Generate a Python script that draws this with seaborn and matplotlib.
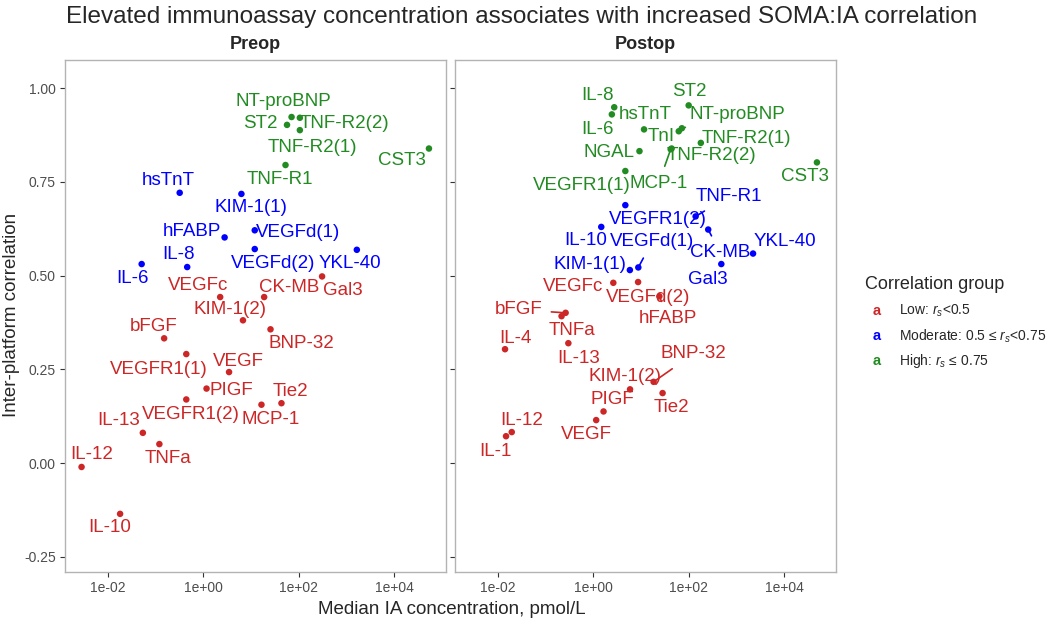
import matplotlib
matplotlib.use("Agg")
import matplotlib.pyplot as plt
import seaborn as sns
import pandas as pd

# Preop data
pre_markers = ['NT-proBNP', 'TNF-R2(2)', 'ST2', 'TNF-R2(1)', 'CST3', 'TNF-R1', 'hsTnT', 'KIM-1(1)',
               'VEGFd(1)', 'hFABP', 'VEGFd(2)', 'YKL-40', 'IL-6', 'IL-8', 'Gal3', 'VEGFc', 'CK-MB',
               'KIM-1(2)', 'BNP-32', 'bFGF', 'VEGFR1(1)', 'VEGF', 'PIGF', 'Tie2', 'MCP-1', 'VEGFR1(2)',
               'IL-13', 'TNFa', 'IL-12', 'IL-10']
pre_conc = [71, 106, 57, 106, 54000, 53, 0.32, 6.3,
            12, 2.8, 12, 1660, 0.051, 0.46, 310, 2.26, 18.9,
            6.8, 25.7, 0.151, 0.44, 3.47, 1.17, 43.6, 16.6, 0.44,
            0.054, 0.12, 0.0028, 0.018]
pre_corr = [0.923, 0.921, 0.902, 0.888, 0.839, 0.795, 0.721, 0.718,
            0.621, 0.602, 0.571, 0.569, 0.531, 0.523, 0.498, 0.443, 0.443,
            0.381, 0.357, 0.333, 0.291, 0.243, 0.199, 0.160, 0.156, 0.170,
            0.081, 0.051, -0.01, -0.135]

# Postop data
post_markers = ['IL-8', 'IL-6', 'ST2', 'hsTnT', 'TnI', 'NT-proBNP', 'TNF-R2(2)', 'TNF-R2(1)', 'NGAL',
                'MCP-1', 'VEGFR1(1)', 'CST3', 'VEGFR1(2)', 'TNF-R1', 'IL-10', 'CK-MB', 'YKL-40', 'Gal3',
                'KIM-1(1)', 'VEGFd(1)', 'VEGFc', 'VEGFd(2)', 'hFABP', 'bFGF', 'TNFa', 'IL-13', 'IL-4',
                'BNP-32', 'KIM-1(2)', 'Tie2', 'PIGF', 'VEGF', 'IL-12', 'IL-1']
post_conc = [2.75, 2.45, 100, 11.6, 62, 72, 44, 180, 9.3,
             42, 4.7, 49000, 4.7, 140, 1.47, 257, 2240, 484,
             5.85, 8.8, 2.63, 8.7, 24.3, 0.263, 0.216, 0.30, 0.0141,
             18.4, 5.9, 28.4, 1.64, 1.15, 0.0195, 0.0148]
post_corr = [0.949, 0.930, 0.954, 0.890, 0.885, 0.893, 0.839, 0.854, 0.832,
             0.837, 0.779, 0.802, 0.688, 0.658, 0.630, 0.623, 0.559, 0.531,
             0.515, 0.522, 0.481, 0.483, 0.445, 0.401, 0.392, 0.320, 0.304,
             0.217, 0.197, 0.187, 0.138, 0.115, 0.083, 0.072]

groups = ['Low', 'Moderate', 'High']
group_labels = ['Low: $r_s$<0.5', 'Moderate: 0.5 \u2264 $r_s$<0.75', 'High: $r_s$ \u2264 0.75']
colors = {'Low': '#CD2626', 'Moderate': '#0000FF', 'High': '#228B22'}

x_ticks = [1e-2, 1, 1e2, 1e4]
x_ticklabels = ['1e-02', '1e+00', '1e+02', '1e+04']
y_ticks = [-0.25, 0, 0.25, 0.5, 0.75, 1.0]

# label offsets in pixels (dx, dy down), and which get a connector line
pre_offsets = {
    'NT-proBNP': (-8, -16), 'ST2': (-27, -1), 'TNF-R2(2)': (45, 6), 'TNF-R2(1)': (13, 17),
    'CST3': (-27, 12), 'TNF-R1': (-6, 14), 'hsTnT': (-11, -12), 'KIM-1(1)': (10, 14),
    'VEGFd(1)': (43, 2), 'hFABP': (-33, -6), 'VEGFd(2)': (18, 14), 'YKL-40': (-7, 14),
    'IL-6': (-9, 14), 'IL-8': (-9, -13), 'Gal3': (21, 14), 'VEGFc': (-22, -12),
    'CK-MB': (25, -10), 'KIM-1(2)': (-13, -11), 'BNP-32': (31, 14), 'bFGF': (-10, -12),
    'VEGFR1(1)': (-27, 15), 'VEGF': (9, -11), 'PIGF': (25, 2), 'Tie2': (9, -12),
    'MCP-1': (9, 15), 'VEGFR1(2)': (5, 15), 'IL-13': (-24, -12), 'TNFa': (9, 14),
    'IL-12': (10, -12), 'IL-10': (-10, 14),
}
post_offsets = {
    'IL-8': (-17, -12), 'IL-6': (-14, 15), 'ST2': (1, -14), 'hsTnT': (1, -15), 'TnI': (-18, 5),
    'NT-proBNP': (56, -14), 'TNF-R2(2)': (40, 7), 'TNF-R2(1)': (46, -4), 'NGAL': (-30, 1),
    'MCP-1': (-12, 34), 'VEGFR1(1)': (-44, 14), 'CST3': (-12, 14), 'VEGFR1(2)': (33, 14),
    'TNF-R1': (33, -20), 'IL-10': (-16, 14), 'CK-MB': (12, 23), 'YKL-40': (32, -12),
    'Gal3': (-13, 15), 'KIM-1(1)': (-40, -6), 'VEGFd(1)': (14, -26), 'VEGFc': (-40, 4),
    'VEGFd(2)': (10, 15), 'hFABP': (9, 22), 'bFGF': (-47, -3), 'TNFa': (10, 14),
    'IL-13': (10, 15), 'IL-4': (10, -11), 'BNP-32': (40, -28), 'KIM-1(2)': (-5, -13),
    'Tie2': (9, 14), 'PIGF': (9, -12), 'VEGF': (-10, 14), 'IL-12': (10, -12), 'IL-1': (-11, 15),
}
post_segments = ['NT-proBNP', 'MCP-1', 'TNF-R1', 'VEGFd(1)', 'CK-MB', 'hFABP', 'bFGF', 'BNP-32']


def corr_group(r):
    if r < 0.5:
        return 'Low'
    if r < 0.75:
        return 'Moderate'
    return 'High'


pre = pd.DataFrame({'marker': pre_markers, 'conc': pre_conc, 'corr': pre_corr})
post = pd.DataFrame({'marker': post_markers, 'conc': post_conc, 'corr': post_corr})
for d in (pre, post):
    d['group'] = d['corr'].apply(corr_group)

sns.set_style('white')
plt.rcParams['font.family'] = ['Liberation Sans', 'DejaVu Sans']
plt.rcParams['mathtext.fontset'] = 'custom'
plt.rcParams['mathtext.rm'] = 'Liberation Sans'
plt.rcParams['mathtext.it'] = 'Liberation Sans:italic'

fig = plt.figure(figsize=(10.5, 6.3), dpi=100)
ax1 = fig.add_axes([65 / 1050, 58 / 630, 381 / 1050, 512 / 630])
ax2 = fig.add_axes([455 / 1050, 58 / 630, 381 / 1050, 512 / 630])

panels = [(ax1, pre, 'Preop', pre_offsets, []), (ax2, post, 'Postop', post_offsets, post_segments)]
for ax, d, name, offs, segs in panels:
    sns.scatterplot(data=d, x='conc', y='corr', hue='group', palette=colors, ax=ax,
                    legend=False, s=22, edgecolor='none', zorder=3)
    ax.set_xscale('log')
    ax.set_xlim(10 ** -2.9, 10 ** 5.09)
    ax.set_ylim(-0.29, 1.075)
    for _, row in d.iterrows():
        dx, dy = offs[row['marker']]
        c = colors[row['group']]
        kw = {}
        if row['marker'] in segs:
            kw['arrowprops'] = dict(arrowstyle='-', color=c, lw=1.2, shrinkA=4, shrinkB=0)
        ax.annotate(row['marker'], (row['conc'], row['corr']), xytext=(dx * 0.72, -dy * 0.72),
                    textcoords='offset points', ha='center', va='center', fontsize=13.5,
                    color=c, zorder=4, **kw)
    ax.set_xticks(x_ticks)
    ax.set_xticklabels(x_ticklabels)
    ax.minorticks_off()
    ax.set_yticks(y_ticks)
    ax.set_yticklabels(['%.2f' % t for t in y_ticks] if ax is ax1 else [])
    ax.tick_params(axis='both', direction='out', length=3.5, width=0.8, color='#333333',
                   labelsize=10, labelcolor='#4D4D4D', pad=3)
    ax.tick_params(axis='y', left=True)
    ax.tick_params(axis='x', bottom=True)
    for sp in ax.spines.values():
        sp.set_color('#B3B3B3')
        sp.set_linewidth(1.0)
    ax.set_xlabel('')
    ax.set_ylabel('')
    ax.set_title(name, fontsize=13, fontweight='bold', pad=8)

fig.text(66 / 1050, 1 - 17 / 630, 'Elevated immunoassay concentration associates with increased SOMA:IA correlation',
         fontsize=17.5, ha='left', va='center')
fig.text(452 / 1050, 1 - 610 / 630, 'Median IA concentration, pmol/L', fontsize=13.5,
         ha='center', va='center')
fig.text(12 / 1050, 1 - 315 / 630, 'Inter-platform correlation', fontsize=13.5, rotation=90,
         ha='center', va='center')

# legend
fig.text(865 / 1050, 1 - 285 / 630, 'Correlation group', fontsize=13, ha='left', va='center')
for i, (g, lab) in enumerate(zip(groups, group_labels)):
    yy = 1 - (311 + 25 * i) / 630
    fig.text(877 / 1050, yy, 'a', fontsize=10.5, color=colors[g], ha='center', va='center',
             fontweight='bold')
    fig.text(899 / 1050, yy, lab, fontsize=10, ha='left', va='center')

fig.savefig('out.png', dpi=100)
